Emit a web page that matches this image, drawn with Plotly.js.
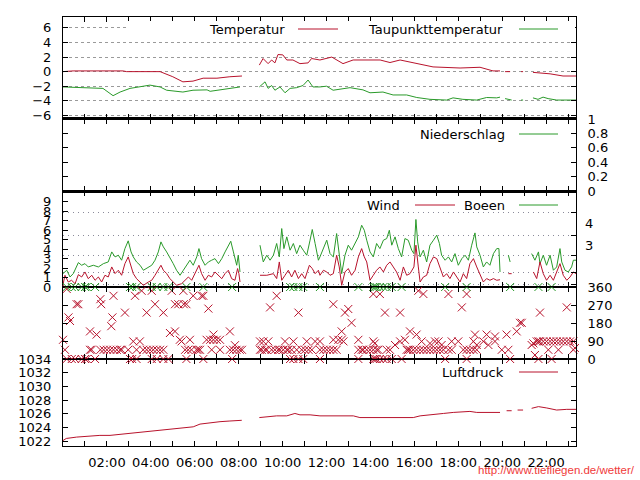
<!DOCTYPE html>
<html><head><meta charset="utf-8">
<script src="https://cdn.plot.ly/plotly-3.0.1.min.js"></script>
<style>html,body{margin:0;padding:0;background:#fff}#chart{width:640px;height:480px}</style>
</head><body><div id="chart"></div>
<script>
// ---------- DATA (time in hours of the day) ----------
const tempT = [0.00,0.46,2.73,2.90,4.42,5.00,5.46,5.92,6.38,7.01,7.60,8.15,8.50,8.94,9.11,9.34,9.50,9.65,9.79,10.01,10.19,10.47,10.79,11.16,11.32,11.70,12.24,12.75,13.21,14.44,14.89,15.35,16.11,16.85,18.08,18.99,19.58,19.90,20.02,20.13,20.36,20.60,20.86,20.95,21.10,21.40,21.72,22.18,22.77,23.36];
const temp  = [0.0,0.1,0.1,0.0,0.0,-0.7,-1.4,-1.3,-0.9,-0.9,-0.7,-0.6,null,0.9,1.8,1.1,1.6,1.2,2.35,2.3,1.6,1.6,1.1,1.2,1.8,1.6,2.0,1.1,1.6,1.6,1.25,1.6,1.1,0.65,0.5,0.6,0.1,0.1,null,0.0,0.0,null,0.0,0.0,null,-0.1,-0.2,-0.3,-0.6,-0.6];
const dewT = [0.00,1.53,1.82,2.28,2.60,3.05,3.96,4.42,4.72,5.46,5.92,6.56,6.70,7.15,7.74,8.06,8.50,8.94,9.20,9.34,9.50,9.65,9.88,10.11,10.34,10.64,10.93,11.16,11.38,11.70,12.00,12.30,13.07,13.66,13.98,14.57,15.03,15.65,16.11,16.71,17.47,17.76,18.21,18.84,19.29,19.75,19.90,20.02,20.13,20.43,20.60,20.86,20.95,21.10,21.40,21.63,21.86,22.09,22.48,23.36];
const dew  = [-2.1,-2.3,-2.3,-3.3,-2.8,-2.3,-1.85,-2.1,-2.55,-2.8,-2.55,-2.5,-2.7,-2.5,-2.3,-2.1,null,-2.1,-1.4,-2.3,-1.9,-2.55,-2.1,-2.9,-2.3,-2.2,-1.9,-1.15,-2.1,-2.1,-2.0,-2.55,-2.2,-2.5,-2.9,-2.8,-3.2,-3.2,-3.55,-3.8,-3.9,-3.6,-3.8,-3.9,-3.55,-3.6,-3.5,null,-3.7,-3.9,null,-3.9,-3.9,null,-3.6,-3.8,-3.5,-3.7,-3.9,-3.9];
const rainT = [0.00,23.36];
const rain  = [0,0];
const gustT = [0.00,0.17,0.32,0.47,0.70,0.85,1.00,1.15,1.38,1.61,1.84,2.06,2.22,2.37,2.52,2.67,2.82,2.97,3.10,3.20,3.35,3.51,3.66,3.81,4.04,4.19,4.34,4.46,4.57,4.72,4.87,5.02,5.17,5.33,5.48,5.63,5.78,5.93,6.09,6.19,6.31,6.47,6.62,6.77,6.92,7.08,7.23,7.38,7.53,7.64,7.76,7.91,7.98,8.06,8.50,
  8.97,9.12,9.28,9.43,9.58,9.73,9.85,9.96,10.06,10.19,10.34,10.49,10.64,10.79,10.94,11.10,11.25,11.35,11.48,11.63,11.70,11.86,12.01,12.16,12.31,12.46,12.58,12.69,12.84,12.99,13.14,13.30,13.45,13.60,13.72,13.83,13.98,14.13,14.28,14.43,14.59,14.74,14.86,14.97,15.12,15.27,15.42,15.57,15.72,15.88,15.98,16.07,16.15,16.26,16.41,16.56,16.71,16.87,17.02,17.14,17.24,17.40,17.55,17.70,17.85,18.00,18.16,18.31,18.46,18.61,18.76,18.84,18.99,19.14,19.29,19.44,19.60,19.75,19.85,19.90,20.10,20.28,20.36,20.60,
  21.34,21.49,21.65,21.72,21.87,22.02,22.18,22.33,22.48,22.63,22.71,22.86,23.01,23.16,23.24,23.36];
const gust  = [1.42,1.77,1.06,1.42,2.58,2.30,2.47,2.12,2.30,2.12,2.47,2.65,3.71,3.18,3.36,2.83,4.06,4.88,3.71,3.18,2.65,2.30,1.77,1.95,2.30,2.83,3.71,4.77,4.24,3.71,3.00,2.47,1.77,1.24,1.77,2.30,2.83,2.30,3.18,4.06,3.00,2.30,2.65,2.83,3.00,2.47,3.00,3.71,4.42,4.84,3.71,2.30,3.36,1.59,null,
  4.42,2.65,3.36,2.83,3.36,4.60,3.18,6.18,4.06,5.30,3.89,4.60,3.53,4.42,3.89,3.36,4.95,6.08,4.60,2.83,3.18,4.06,4.95,3.53,3.18,5.65,3.18,1.41,3.36,4.42,3.89,4.60,5.30,6.53,6.00,4.95,3.71,3.18,4.60,4.06,4.95,5.12,6.00,4.42,5.30,4.06,3.18,5.12,4.95,3.89,3.53,7.14,4.77,3.18,3.89,2.65,4.42,4.95,5.48,4.60,3.36,2.83,3.18,2.65,3.53,2.30,3.00,3.36,2.83,4.42,5.72,4.24,3.36,2.12,2.65,2.30,3.53,4.06,4.06,1.59,null,3.36,2.65,null,
  3.53,2.83,3.71,2.47,3.36,2.30,3.36,1.77,2.12,4.06,2.65,1.77,1.59,2.12,2.83,2.83];
const windT = [0.00,0.09,0.24,0.39,0.55,0.70,0.85,1.00,1.15,1.31,1.46,1.61,1.76,1.91,2.06,2.22,2.37,2.52,2.67,2.82,2.97,3.10,3.20,3.35,3.51,3.66,3.89,4.04,4.19,4.34,4.46,4.57,4.72,4.87,5.02,5.17,5.40,5.56,5.71,5.86,6.01,6.19,6.31,6.47,6.62,6.77,6.92,7.08,7.23,7.38,7.53,7.68,7.83,7.95,8.01,8.06,8.50,
  8.97,9.28,9.58,9.73,9.85,9.96,10.11,10.26,10.41,10.56,10.72,10.87,11.02,11.22,11.35,11.48,11.63,11.70,11.86,12.01,12.16,12.31,12.46,12.58,12.69,12.84,12.99,13.14,13.30,13.45,13.60,13.72,13.83,13.98,14.13,14.28,14.43,14.59,14.74,14.89,15.04,15.19,15.35,15.50,15.65,15.80,15.98,16.07,16.18,16.26,16.41,16.56,16.71,16.87,17.02,17.17,17.32,17.47,17.62,17.78,17.93,18.08,18.23,18.38,18.53,18.69,18.84,18.99,19.14,19.29,19.44,19.60,19.75,19.90,20.10,20.28,20.43,20.60,
  21.42,21.57,21.72,21.87,22.02,22.18,22.33,22.48,22.63,22.78,22.94,23.09,23.24,23.36];
const wind  = [0.25,1.24,0.53,0.71,0.35,1.31,1.06,1.59,0.88,1.24,0.71,1.06,0.53,1.24,1.06,2.12,1.42,1.77,1.24,2.47,3.18,2.12,1.42,0.88,0.53,0.18,0.53,0.71,1.24,1.77,2.30,1.77,1.42,0.88,0.53,0.18,0.35,0.71,1.06,0.71,1.42,2.30,1.42,0.71,1.24,1.06,1.59,1.24,0.88,1.42,1.77,0.88,0.71,1.95,1.42,0.53,null,
  1.24,1.24,1.41,0.89,2.65,0.71,1.24,1.77,1.06,1.77,0.89,1.41,0.89,2.30,1.95,1.41,1.77,1.24,1.77,1.59,1.24,1.41,3.36,2.12,0.18,1.59,1.95,1.24,1.77,3.18,4.06,3.18,2.65,0.71,1.24,1.77,2.12,1.59,2.30,2.65,2.12,1.59,0.71,2.12,1.24,1.41,2.12,4.42,2.12,0.53,1.06,1.24,2.47,3.18,3.00,1.95,1.06,1.41,0.89,1.59,1.06,0.53,1.41,0.89,2.47,3.00,2.12,1.41,0.53,0.89,0.71,0.89,0.71,0.77,null,1.41,1.41,null,
  1.59,0.89,2.65,1.41,0.71,1.24,0.71,1.59,2.47,1.24,0.71,1.06,1.59,1.41];
const dirT = [0.00,0.09,0.17,0.17,0.25,0.32,0.40,0.55,0.62,0.70,0.85,1.00,1.08,1.23,1.23,1.30,1.46,1.53,1.70,1.74,1.70,1.85,2.00,2.15,2.20,2.25,2.30,2.30,2.45,2.60,2.67,2.82,2.97,3.05,3.15,3.20,3.28,3.35,3.35,3.50,3.58,3.65,3.81,3.81,3.96,4.04,4.04,4.11,4.19,4.27,4.27,4.42,4.57,4.57,4.57,4.80,4.87,4.95,5.10,5.10,5.25,5.32,5.40,5.48,5.50,5.56,5.62,5.62,5.70,5.78,5.85,5.93,6.08,6.16,6.24,6.31,6.39,6.39,6.54,6.62,6.70,6.77,6.85,6.85,7.00,7.15,7.15,7.60,7.60,7.70,7.75,7.83,7.90,8.05,8.15,
  8.97,8.97,9.05,9.12,9.20,9.28,9.35,9.43,9.50,9.65,9.73,9.80,9.88,10.03,10.11,10.19,10.26,10.34,10.41,10.49,10.49,10.64,10.72,10.72,10.87,10.94,11.02,11.10,11.18,11.33,11.48,11.70,11.70,11.70,11.86,12.01,12.16,12.31,12.31,12.31,12.46,12.54,12.69,12.69,12.77,12.84,12.99,13.14,13.45,13.45,13.45,13.60,13.67,13.83,13.98,14.13,14.13,14.13,14.13,14.20,14.20,14.28,14.28,14.36,14.43,14.43,14.59,14.66,14.74,14.74,14.89,14.97,15.12,15.35,15.35,15.42,15.57,15.65,15.72,15.80,15.80,15.95,16.10,16.10,16.18,16.26,16.33,16.41,16.41,16.56,16.71,16.71,16.87,16.94,17.02,17.10,17.17,17.24,17.32,17.40,17.55,17.55,17.70,17.70,18.00,18.16,18.23,18.38,18.38,18.38,18.53,18.69,18.69,18.76,18.84,18.84,19.14,19.29,19.37,19.67,19.67,19.98,20.20,20.28,20.36,20.66,20.81,20.89,21.34,21.42,21.49,21.57,21.65,21.65,21.72,21.72,21.87,22.02,22.10,22.18,22.25,22.33,22.48,22.56,22.63,22.78,22.94,22.94,23.09,23.24,23.24,23.31];
const dir  = [96,46,350,0,208,190,0,0,274,274,0,0,0,138,46,46,0,122,299,274,46,46,46,46,164,208,316,46,46,46,46,232,46,0,0,88,316,0,46,88,341,46,232,46,46,341,0,46,274,46,0,46,232,46,0,0,130,341,138,274,274,96,88,341,274,46,274,0,46,96,46,316,46,46,46,316,316,0,96,252,96,46,122,96,96,96,46,138,46,0,46,69,46,46,46,
  46,88,46,88,46,46,88,258,46,46,316,46,46,46,88,46,46,0,46,88,0,46,232,0,46,0,46,88,46,46,88,88,46,0,46,46,46,274,96,46,46,96,138,96,88,232,250,181,96,46,0,46,46,46,46,325,88,46,0,78,0,46,0,46,325,0,0,232,0,46,46,0,70,88,232,0,96,46,46,138,46,46,122,46,341,46,88,325,46,46,78,46,46,88,46,88,46,70,46,0,325,46,88,46,88,258,46,325,46,0,46,88,46,122,70,46,88,122,70,88,113,46,122,46,0,138,181,181,70,78,20,88,88,0,232,88,88,88,46,88,0,88,88,46,88,88,258,88,88,88,46,55];
const presT = [0.00,0.15,0.62,1.23,1.68,2.14,2.60,3.20,3.66,4.11,4.57,5.02,5.48,5.93,6.24,6.69,7.15,7.60,8.14,8.50,8.94,9.28,9.73,10.19,10.56,10.79,11.25,11.70,12.46,13.22,13.52,14.74,15.95,16.26,16.86,17.32,17.77,18.53,18.84,19.29,19.90,20.05,20.20,20.43,20.55,20.70,20.95,21.10,21.34,21.65,22.03,22.48,22.94,23.36];
const pres  = [1022.1,1022.4,1022.6,1022.75,1022.85,1022.85,1023.0,1023.25,1023.35,1023.6,1023.7,1023.9,1024.0,1024.1,1024.5,1024.7,1024.85,1024.95,1025.05,null,1025.45,1025.55,1025.7,1025.7,1026.05,1025.85,1025.85,1025.7,1025.7,1025.7,1025.45,1025.45,1025.45,1025.7,1025.85,1026.05,1026.2,1026.35,1026.2,1026.2,1026.2,null,1026.45,1026.45,null,1026.55,1026.55,null,1026.8,1027.05,1026.85,1026.55,1026.65,1026.65];
const xTickHours  = [1,2,3,4,5,6,7,8,9,10,11,12,13,14,15,16,17,18,19,20,21,22,23];
const xTickLabels = ['','02:00','','04:00','','06:00','','08:00','','10:00','','12:00','','14:00','','16:00','','18:00','','20:00','','22:00',''];
const xRangeHours = [0, 23.36];
const tempTicks = [-6,-4,-2,0,2,4,6];
const rainTicks = [0,0.2,0.4,0.6,0.8,1];
const windTicks = [0,1,2,3,4,5,6,7,8,9];
const beaufortLimits = [0.3,1.5,3.3,5.4,7.9];
const beaufortLabelPos = [4.4,6.75];
const beaufortLabels = ['3','4'];
const dirTicks = [0,90,180,270,360];
const presTicks = [1022,1024,1026,1028,1030,1032,1034];

// ---------- helpers ----------
const BASE = Date.UTC(2024,0,1);
function hd(h){ return new Date(BASE + h*3600000).toISOString().replace('T',' ').replace('Z',''); }
const RED = '#b8132c', GREEN = '#2a9a2a', FONT = 'DejaVu Sans';
const L=63, Rm=64, T=17, B=34, PW=640-L-Rm, PH=480-T-B;
function px(x){ return (x-L)/PW; }
function py(y){ return (480-B-y)/PH; }

const xBase = {type:'date', range:[hd(xRangeHours[0]), hd(xRangeHours[1])], tickmode:'array',
  tickvals: xTickHours.map(hd), ticktext: xTickLabels, ticks:'inside', ticklen:5, tickcolor:'#000',
  showline:true, linecolor:'#000', linewidth:1, mirror:'ticks', showgrid:false, zeroline:false,
  tickfont:{family:FONT,size:13,color:'#000'}};
function xa(anchor, extra){ return Object.assign({}, xBase, {anchor:anchor}, extra||{}); }
function ya(domain, extra){ return Object.assign({domain:domain, ticks:'inside', ticklen:5, tickcolor:'#000',
  showline:true, linecolor:'#000', linewidth:1, mirror:'ticks', showgrid:false, zeroline:false,
  tickfont:{family:FONT,size:13,color:'#000'}, ticklabelstandoff:8, tickmode:'array', fixedrange:true}, extra); }

const dTemp=[py(119),1], dRain=[py(191),py(119)], dWind=[py(287),py(191)], dDir=[py(359),py(287)], dPres=[0,py(359)];

const calmT = dirT.filter((t,i)=>dir[i]===0);
const calmY = calmT.map(()=>360);

const traces = [
  {x:tempT.map(hd), y:temp, xaxis:'x2', yaxis:'y', mode:'lines', line:{color:RED,width:1}},
  {x:dewT.map(hd), y:dew, xaxis:'x2', yaxis:'y', mode:'lines', line:{color:GREEN,width:1}},
  {x:rainT.map(hd), y:rain, xaxis:'x3', yaxis:'y2', mode:'lines', line:{color:GREEN,width:1}},
  {x:gustT.map(hd), y:gust, xaxis:'x4', yaxis:'y3', mode:'lines', line:{color:GREEN,width:1}},
  {x:windT.map(hd), y:wind, xaxis:'x4', yaxis:'y3', mode:'lines', line:{color:RED,width:1}},
  {x:[], y:[], xaxis:'x4', yaxis:'y6', mode:'lines'},
  {x:[], y:[], xaxis:'x4', yaxis:'y7', mode:'lines'},
  {x:dirT.map(hd), y:dir, xaxis:'x5', yaxis:'y4', mode:'markers', cliponaxis:false,
    marker:{symbol:'x-thin', size:8, color:RED, line:{color:RED,width:1}}},
  {x:calmT.map(hd), y:calmY, xaxis:'x5', yaxis:'y4', mode:'markers', cliponaxis:false,
    marker:{symbol:'x-thin', size:8, color:GREEN, line:{color:GREEN,width:1}}},
  {x:presT.map(hd), y:pres, xaxis:'x', yaxis:'y5', mode:'lines', line:{color:RED,width:1}}
];

function keyText(txt, xr, y){ return {xref:'paper', yref:'paper', x:px(xr), y:py(y), xanchor:'right', yanchor:'middle',
  text:txt, showarrow:false, font:{family:FONT,size:13,color:'#000'}}; }
function keyLine(x0, x1, y, c){ return {type:'line', xref:'paper', yref:'paper', x0:px(x0), x1:px(x1), y0:py(y), y1:py(y), line:{color:c,width:1}, layer:'above'}; }

const layout = {
  width:640, height:480, margin:{l:L, r:Rm, t:T, b:B}, paper_bgcolor:'#fff', plot_bgcolor:'#fff',
  showlegend:false, font:{family:FONT,size:13,color:'#000'},
  xaxis: xa('y5', {showticklabels:true, ticklabelstandoff:4}),
  xaxis2: xa('y', {matches:'x', showticklabels:false}),
  xaxis3: xa('y2', {matches:'x', showticklabels:false, linewidth:2}),
  xaxis4: xa('y3', {matches:'x', showticklabels:false}),
  xaxis5: xa('y4', {matches:'x', showticklabels:false}),
  yaxis: ya(dTemp, {anchor:'x2', range:[-6.5,7.5], tickvals:tempTicks, showgrid:true, gridcolor:'#9a9a9a', griddash:'3px,3px', gridwidth:1}),
  yaxis2: ya(dRain, {anchor:'x3', range:[0,1], tickvals:rainTicks, side:'right'}),
  yaxis3: ya(dWind, {anchor:'x4', range:[0,10.15], tickvals:windTicks, mirror:false}),
  yaxis6: ya(dWind, {anchor:'x4', overlaying:'y3', side:'right', range:[0,10.15], tickvals:beaufortLimits, showticklabels:false, mirror:false,
    showgrid:true, gridcolor:'#8a8a9a', griddash:'1px,4px', gridwidth:1}),
  yaxis7: ya(dWind, {anchor:'x4', overlaying:'y3', side:'right', range:[0,10.15], tickvals:beaufortLabelPos, ticktext:beaufortLabels, ticks:'', showline:false, mirror:false}),
  yaxis4: ya(dDir, {anchor:'x5', range:[0,360], tickvals:dirTicks, side:'right'}),
  yaxis5: ya(dPres, {anchor:'x', range:[1021.3,1034], tickvals:presTicks}),
  shapes: [
    {type:'rect', xref:'paper', yref:'paper', x0:px(126), x1:px(575), y0:py(37), y1:py(21), fillcolor:'#fff', line:{width:0}, layer:'above'},
    keyLine(298,338,29,RED), keyLine(519,558,29,GREEN),
    keyLine(519,558,134,GREEN),
    keyLine(415,455,205,RED), keyLine(519,558,205,GREEN),
    keyLine(519,558,372,RED)
  ],
  annotations: [
    keyText('Temperatur',287,29), keyText('Taupunkttemperatur',505,29),
    keyText('Niederschlag',507,134),
    keyText('Wind',402,205), keyText('Boeen',507,205),
    keyText('Luftdruck',506,372),
    {xref:'paper', yref:'paper', x:px(637), y:py(470), xanchor:'right', yanchor:'middle', text:'http://www.tiefliegen.de/wetter/',
      showarrow:false, font:{family:'Liberation Sans', size:11.5, color:'#f03a3a'}}
  ]
};
Plotly.newPlot('chart', traces, layout, {staticPlot:true, displayModeBar:false});
</script></body></html>
